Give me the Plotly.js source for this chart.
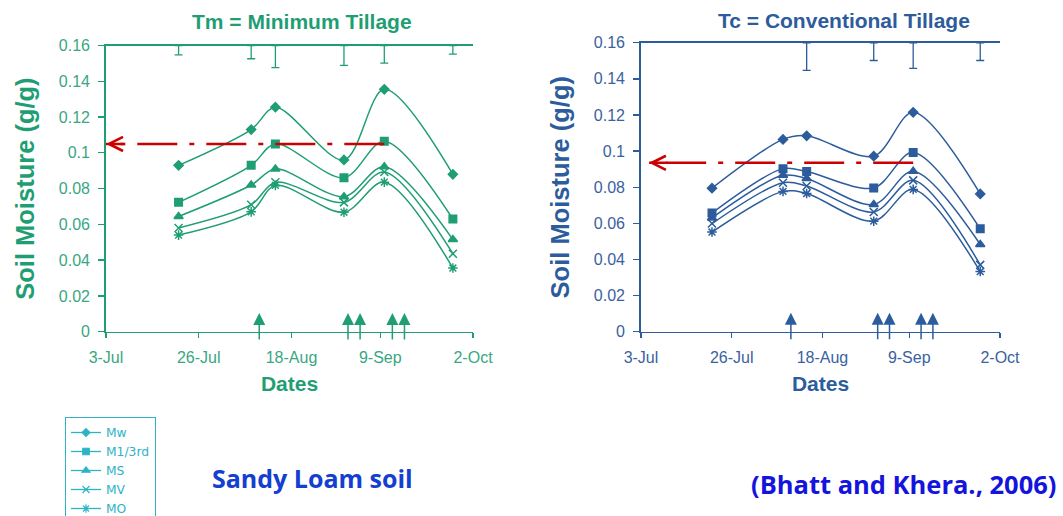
<!DOCTYPE html>
<html>
<head>
<meta charset="utf-8">
<script src="https://cdn.plot.ly/plotly-3.0.1.min.js"></script>
<style>html,body{margin:0;padding:0;background:#fff;}#chart{width:1063px;height:516px;}</style>
</head>
<body>
<div id="chart"></div>
<script>
// ---- data ----
const seriesNames = ['Mw', 'M1/3rd', 'MS', 'MV', 'MO'];
const sampleDates = ['2006-07-21', '2006-08-08', '2006-08-14', '2006-08-31', '2006-09-10', '2006-09-27'];
const irrigationDates = ['2006-08-10', '2006-09-01', '2006-09-04', '2006-09-12', '2006-09-15'];
const dateTickVals = ['2006-07-03', '2006-07-26', '2006-08-18', '2006-09-09', '2006-10-02'];
const dateTickText = ['3-Jul', '26-Jul', '18-Aug', '9-Sep', '2-Oct'];

// Tm = Minimum Tillage
const tmMw    = [0.093, 0.113, 0.1255, 0.096, 0.1355, 0.088];
const tmM13   = [0.0723, 0.093, 0.105, 0.086, 0.1065, 0.063];
const tmMS    = [0.0644, 0.082, 0.091, 0.0755, 0.0922, 0.0515];
const tmMV    = [0.058, 0.071, 0.0835, 0.0723, 0.0893, 0.0436];
const tmMO    = [0.054, 0.067, 0.0818, 0.0668, 0.0836, 0.0356];
const tmLSD   = [0.0052, 0.0074, 0.0124, 0.0111, 0.0098, 0.0048];
const tmRefLevel = [0.105];
const tmRefSpan  = ['2006-07-03', '2006-09-10'];

// Tc = Conventional Tillage
const tcMw    = [0.0795, 0.1065, 0.1085, 0.0972, 0.1215, 0.0763];
const tcM13   = [0.0657, 0.0903, 0.0887, 0.0796, 0.0993, 0.057];
const tcMS    = [0.063, 0.0866, 0.0848, 0.0704, 0.0888, 0.0483];
const tcMV    = [0.0599, 0.0825, 0.0807, 0.0663, 0.0838, 0.037];
const tcMO    = [0.0552, 0.0777, 0.0765, 0.0612, 0.0788, 0.0333];
const tcLSD   = [null, null, 0.0153, 0.0098, 0.0142, 0.0098];
const tcRefLevel = [0.0935];
const tcRefSpan  = ['2006-07-05', '2006-09-10'];

// ---- styles ----
const GREEN = '#1f9e74', GREEN_TXT = '#3aa683';
const BLUE = '#2c5c9c', BLUE_TXT = '#3a62a0';
const CYAN = '#2db4c4';
const RED = '#cc0000';
const symbols = ['diamond', 'square', 'triangle-up', 'x-thin-open', 'asterisk-open'];
const sizes = [7, 7.5, 8, 8, 8];
const YMAX = 0.16;

function seriesTraces(vals, color, xa, ya) {
  return vals.map((v, i) => ({
    type: 'scatter', mode: 'lines+markers', name: seriesNames[i],
    x: sampleDates, y: v, xaxis: xa, yaxis: ya, showlegend: false,
    line: {color: color, width: 1.5, shape: 'spline', smoothing: 0.9},
    marker: {symbol: symbols[i], size: sizes[i], color: color, line: {color: color, width: 1.5}},
    hoverinfo: 'x+y+name'
  }));
}
function lsdTrace(lsd, color, xa, ya) {
  return {
    type: 'scatter', mode: 'markers', x: sampleDates,
    y: lsd.map(v => v == null ? null : YMAX), xaxis: xa, yaxis: ya, showlegend: false,
    marker: {size: 1, color: 'rgba(0,0,0,0)'}, cliponaxis: false, hoverinfo: 'skip',
    error_y: {type: 'data', symmetric: false, array: lsd.map(() => 0), arrayminus: lsd.map(v => v == null ? 0 : v),
      color: color, thickness: 1.3, width: 4}
  };
}

const data = []
  .concat(seriesTraces([tmMw, tmM13, tmMS, tmMV, tmMO], GREEN, 'x', 'y'))
  .concat(seriesTraces([tcMw, tcM13, tcMS, tcMV, tcMO], BLUE, 'x2', 'y2'))
  .concat([lsdTrace(tmLSD, GREEN, 'x', 'y'), lsdTrace(tcLSD, BLUE, 'x2', 'y2')]);

// legend-only entries (legend drawn in cyan as in the original figure)
seriesNames.forEach((n, i) => {
  data.push({
    type: 'scatter', mode: 'lines+markers', name: n, x: [null], y: [null], xaxis: 'x', yaxis: 'y',
    showlegend: true, line: {color: CYAN, width: 1.3},
    marker: {symbol: symbols[i], size: sizes[i] - 1, color: CYAN, line: {color: CYAN, width: 1.2}}
  });
});

function xAxis(domain, anchor, col, txt) {
  return {
    domain: domain, anchor: anchor, type: 'date', range: ['2006-07-03', '2006-10-02'],
    tickmode: 'array', tickvals: dateTickVals, ticktext: dateTickText,
    ticks: 'outside', ticklen: 5, tickwidth: 1.3, tickcolor: col,
    showline: true, linecolor: col, linewidth: 1.8, mirror: true,
    showgrid: false, zeroline: false, ticklabelstandoff: 5,
    tickfont: {family: 'Liberation Sans, Arial, sans-serif', size: 16, color: txt},
    title: {text: '<b>Dates</b>', standoff: 12, font: {family: 'Liberation Sans, Arial, sans-serif', size: 21, color: col}}
  };
}
function yAxis(domain, anchor, col, txt) {
  return {
    domain: domain, anchor: anchor, range: [0, YMAX], dtick: 0.02, tick0: 0,
    ticks: 'outside', ticklen: 6, tickwidth: 1.3, tickcolor: col,
    showline: true, linecolor: col, linewidth: 1.8, mirror: false,
    showgrid: false, zeroline: false, ticklabelstandoff: 5,
    tickfont: {family: 'Liberation Sans, Arial, sans-serif', size: 16, color: txt},
    title: {text: '<b>Soil Moisture (g/g)</b>', standoff: 17, font: {family: 'Liberation Sans, Arial, sans-serif', size: 25.5, color: col}}
  };
}

const annotations = [
  {xref: 'paper', yref: 'paper', x: 0.2838, y: 0.958, xanchor: 'center', yanchor: 'middle', showarrow: false,
   text: '<b>Tm = Minimum Tillage</b>', font: {family: 'Liberation Sans, Arial, sans-serif', size: 21, color: GREEN}},
  {xref: 'paper', yref: 'paper', x: 0.794, y: 0.961, xanchor: 'center', yanchor: 'middle', showarrow: false,
   text: '<b>Tc = Conventional Tillage</b>', font: {family: 'Liberation Sans, Arial, sans-serif', size: 21, color: BLUE}},
  {xref: 'paper', yref: 'paper', x: 0.2937, y: 0.0742, xanchor: 'center', yanchor: 'middle', showarrow: false,
   text: '<b>Sandy Loam soil</b>', font: {family: 'Open Sans, sans-serif', size: 25, color: '#1340d0'}},
  {xref: 'paper', yref: 'paper', x: 0.8504, y: 0.062, xanchor: 'center', yanchor: 'middle', showarrow: false,
   text: '<b>(Bhatt and Khera., 2006)</b>', font: {family: 'Open Sans, sans-serif', size: 25.5, color: '#1414dc'}}
];
// irrigation arrows
[['x', 'y', GREEN], ['x2', 'y2', BLUE]].forEach(([xa, ya, col]) => {
  irrigationDates.forEach(d => {
    annotations.push({xref: xa, yref: ya, x: d, y: 0.0105, text: '', showarrow: true,
      arrowhead: 2, arrowsize: 1.6, arrowwidth: 1.5, arrowcolor: col, ax: 0, ay: 28});
  });
});
// red reference arrows
annotations.push({xref: 'x', yref: 'y', x: tmRefSpan[0], y: tmRefLevel[0], text: '', showarrow: true,
  arrowhead: 5, arrowsize: 1.1, arrowwidth: 2.5, arrowcolor: RED, ax: 20, ay: 0});
annotations.push({xref: 'x2', yref: 'y2', x: tcRefSpan[0], y: tcRefLevel[0], text: '', showarrow: true,
  arrowhead: 5, arrowsize: 1.1, arrowwidth: 2.5, arrowcolor: RED, ax: 20, ay: 0});

const shapes = [
  {type: 'line', xref: 'x', yref: 'y', x0: tmRefSpan[1], x1: tmRefSpan[0], y0: tmRefLevel[0], y1: tmRefLevel[0],
   layer: 'above', line: {color: RED, width: 2.5, dash: '40px,12px,5px,12px'}},
  {type: 'line', xref: 'x2', yref: 'y2', x0: tcRefSpan[1], x1: tcRefSpan[0], y0: tcRefLevel[0], y1: tcRefLevel[0],
   layer: 'above', line: {color: RED, width: 2.5, dash: '40px,12px,5px,12px'}}
];

const layout = {
  width: 1063, height: 516,
  margin: {l: 0, r: 0, t: 0, b: 0, autoexpand: false},
  paper_bgcolor: '#ffffff', plot_bgcolor: '#ffffff',
  showlegend: true,
  legend: {x: 65 / 1063, y: 1 - 417 / 516, xanchor: 'left', yanchor: 'top',
    bordercolor: CYAN, borderwidth: 1, bgcolor: 'rgba(255,255,255,0)', tracegroupgap: 0,
    font: {family: 'DejaVu Sans, sans-serif', size: 12.3, color: CYAN}},
  xaxis: xAxis([0.0997, 0.445], 'y', GREEN, GREEN_TXT),
  yaxis: yAxis([0.3572, 0.9118], 'x', GREEN, GREEN_TXT),
  xaxis2: xAxis([0.603, 0.9407], 'y2', BLUE, BLUE_TXT),
  yaxis2: yAxis([0.3572, 0.9171], 'x2', BLUE, BLUE_TXT),
  annotations: annotations,
  shapes: shapes
};

Plotly.newPlot('chart', data, layout, {displayModeBar: false, staticPlot: true});
</script>
</body>
</html>
